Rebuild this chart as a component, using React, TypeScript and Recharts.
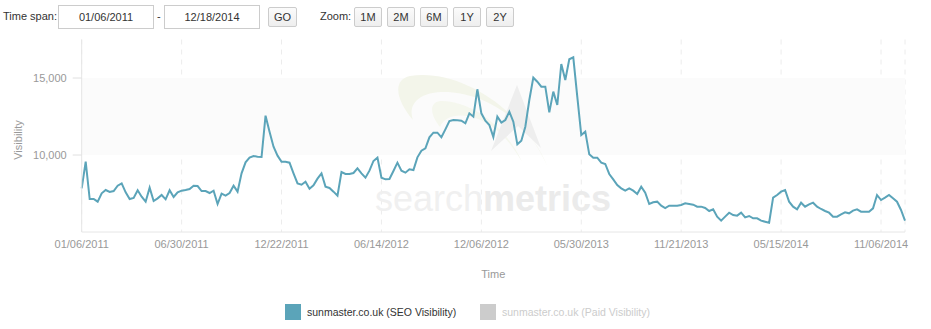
import React from 'react';
import { LineChart, Line, XAxis, YAxis, CartesianGrid, ReferenceArea } from 'recharts';

// Weekly SEO visibility, starting 01/06/2011 (week 0) to 12/18/2014 (week 206)
const seoVisibility: number[] = [
  7838, 9566, 7143, 7150, 6968, 7513, 7727, 7598, 7662, 8007,
  8160, 7578, 7143, 7208, 7708, 7293, 6968, 7878, 7013, 7186,
  7403, 7122, 7708, 7273, 7578, 7684, 7727, 7792, 8007, 7985,
  7662, 7662, 7533, 7684, 6818, 7490, 7360, 7533, 8007, 7620,
  8810, 9526, 9827, 9935, 9893, 9870, 12553, 11513, 10540, 9957,
  9566, 9566, 9502, 8810, 8160, 8073, 8267, 7814, 8030, 8463,
  8810, 7944, 7857, 7620, 7360, 8896, 8767, 8767, 8831, 9134,
  8810, 8528, 8983, 9611, 9827, 8528, 8420, 8441, 8961, 9502,
  8983, 8853, 9069, 9026, 9848, 10281, 10433, 11148, 11450, 11450,
  11148, 11667, 12208, 12273, 12250, 12230, 12056, 12706, 12490, 14267,
  12706, 12230, 11948, 11170, 12490, 12100, 12273, 12814, 12165, 10694,
  10931, 11840, 13572, 15021, 14761, 14437, 14437, 12771, 14113, 13247,
  15910, 14871, 16215, 16345, 13787, 11300, 11513, 10043, 9827, 9827,
  9502, 9416, 8767, 8420, 8052, 7835, 7684, 7835, 7684, 7468,
  7944, 7555, 6818, 6926, 6970, 6710, 6559, 6710, 6710, 6710,
  6753, 6861, 6818, 6775, 6645, 6645, 6559, 6364, 6472, 5996,
  5736, 5996, 6255, 6104, 6061, 6255, 5953, 6040, 5887, 5887,
  5736, 5671, 5606, 7229, 7403, 7620, 7727, 6968, 6645, 6472,
  6904, 6645, 6796, 6904, 6645, 6494, 6364, 6255, 5996, 5996,
  6147, 6277, 6212, 6385, 6472, 6320, 6320, 6320, 6537, 7403,
  7078, 7229, 7403, 7186, 6968, 6429, 5736,
];

const xTickWeeks: number[] = [0, 25, 50, 75, 100, 125, 150, 175, 200];
const xTickLabels: string[] = [
  '01/06/2011', '06/30/2011', '12/22/2011', '06/14/2012', '12/06/2012',
  '05/30/2013', '11/21/2013', '05/15/2014', '11/06/2014',
];
const yTicks: number[] = [10000, 15000];
const yDomain: number[] = [5000, 17500];
const zoomButtons: string[] = ['1M', '2M', '6M', '1Y', '2Y'];
const seriesNames: string[] = ['sunmaster.co.uk (SEO Visibility)', 'sunmaster.co.uk (Paid Visibility)'];

const data = seoVisibility.map((v, i) => ({ week: i, seo: v }));

const FONT = '"Liberation Sans", Arial, sans-serif';
const LINE_COLOR = '#5ba4b9';

const BandWithWatermark = (p: any) => (
  <g pointerEvents="none">
    <rect x={p.x} y={p.y} width={p.width} height={p.height} fill="#fbfbfb" />
    <path d="M 548 168 C 525 112, 462 68, 410 76 C 392 80, 396 100, 413 120 C 404 94, 440 84, 480 99 C 516 114, 537 140, 548 168 Z" fill="#f3f5ea" />
    <path d="M 522 162 C 506 126, 470 100, 440 101 C 428 103, 431 116, 440 127 C 446 112, 470 112, 490 125 C 506 136, 515 150, 522 162 Z" fill="#f5f7ee" />
    <polygon points="517,85 541,148 518,126 491,151" fill="#eeeeee" />
    <text x={375} y={211} fontFamily={FONT} fontSize={36} fill="#f0f0f0">search<tspan fontWeight="bold" fill="#ebebeb">metrics</tspan></text>
  </g>
);

const boxStyle: React.CSSProperties = {
  position: 'absolute',
  border: '1px solid #cccccc',
  boxSizing: 'border-box',
  fontSize: 11,
  color: '#333',
  display: 'flex',
  alignItems: 'center',
  justifyContent: 'center',
  background: '#fff',
};

const btnStyle: React.CSSProperties = {
  ...boxStyle,
  borderRadius: 2,
  background: 'linear-gradient(#fbfbfb, #eeeeee)',
  top: 7,
  height: 20,
};

export default function App() {
  return (
    <div style={{ position: 'absolute', left: 0, top: 0, width: 931, height: 329, background: '#fff', fontFamily: FONT, overflow: 'hidden' }}>
      {/* Controls */}
      <div style={{ position: 'absolute', left: 3, top: 9, fontSize: 11, color: '#333', lineHeight: '14px' }}>Time span:</div>
      <div style={{ ...boxStyle, left: 58, top: 5, width: 96, height: 24 }}>01/06/2011</div>
      <div style={{ position: 'absolute', left: 157, top: 9, fontSize: 11, color: '#333', lineHeight: '14px' }}>-</div>
      <div style={{ ...boxStyle, left: 164, top: 5, width: 96, height: 24 }}>12/18/2014</div>
      <div style={{ ...btnStyle, left: 268, width: 29 }}>GO</div>
      <div style={{ position: 'absolute', left: 320, top: 9, fontSize: 11, color: '#333', lineHeight: '14px' }}>Zoom:</div>
      {zoomButtons.map((b, i) => (
        <div key={b} style={{ ...btnStyle, left: 354 + i * 33, width: 28 }}>{b}</div>
      ))}

      {/* Y axis title */}
      <div style={{ position: 'absolute', left: 18, top: 140, transform: 'translate(-50%, -50%) rotate(-90deg)', fontSize: 11, color: '#999', whiteSpace: 'nowrap' }}>Visibility</div>

      <div style={{ position: 'absolute', left: 0, top: 0 }}>
        <LineChart width={931} height={329} data={data} margin={{ top: 39.5, right: 26, bottom: 51, left: 0 }}>
          <ReferenceArea y1={10000} y2={15000} shape={BandWithWatermark} />
          <CartesianGrid horizontal={false} vertical={true} stroke="#ececec" strokeDasharray="5 5" />
          <XAxis
            dataKey="week"
            type="number"
            domain={[0, 206]}
            ticks={xTickWeeks}
            interval={0}
            tickFormatter={(w: number) => xTickLabels[xTickWeeks.indexOf(w)] ?? ''}
            tick={{ fill: '#999', fontSize: 11, fontFamily: FONT }}
            tickLine={false}
            axisLine={{ stroke: '#e6e6e6' }}
            height={46}
            label={{ value: 'Time', position: 'insideBottom', offset: 0, fill: '#999', fontSize: 11, fontFamily: FONT }}
          />
          <YAxis
            type="number"
            domain={yDomain}
            ticks={yTicks}
            allowDataOverflow
            width={81.7}
            tickSize={9}
            tickMargin={6}
            tickLine={{ stroke: '#e0e0e0' }}
            axisLine={{ stroke: '#e6e6e6' }}
            tick={{ fill: '#999', fontSize: 11, fontFamily: FONT }}
            tickFormatter={(v: number) => v.toLocaleString('en-US')}
          />
          <Line
            type="linear"
            dataKey="seo"
            stroke={LINE_COLOR}
            strokeWidth={2}
            dot={false}
            isAnimationActive={false}
          />
        </LineChart>
      </div>

      {/* Legend */}
      <div style={{ position: 'absolute', left: 285, top: 304, width: 16, height: 16, background: LINE_COLOR }} />
      <div style={{ position: 'absolute', left: 307, top: 304, fontSize: 10.5, lineHeight: '16px', color: '#333', whiteSpace: 'nowrap' }}>{seriesNames[0]}</div>
      <div style={{ position: 'absolute', left: 480, top: 304, width: 16, height: 16, background: '#cccccc' }} />
      <div style={{ position: 'absolute', left: 502, top: 304, fontSize: 10.5, lineHeight: '16px', color: '#cccccc', whiteSpace: 'nowrap' }}>{seriesNames[1]}</div>
    </div>
  );
}
